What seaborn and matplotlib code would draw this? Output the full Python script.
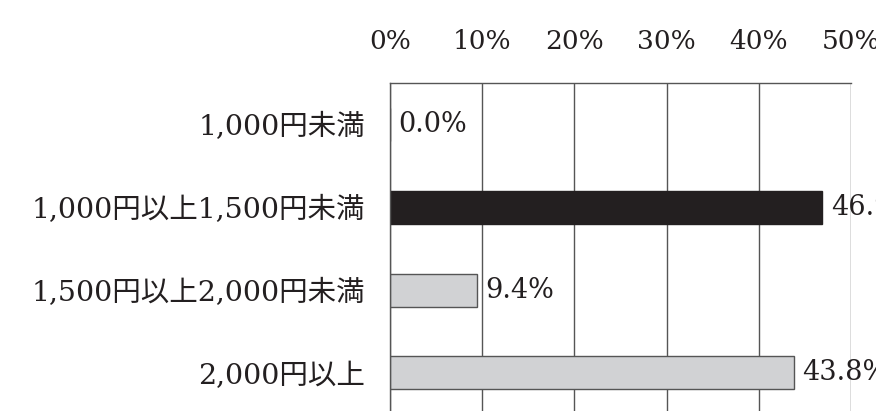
import matplotlib
matplotlib.use('Agg')
import matplotlib.pyplot as plt
import seaborn as sns
import pandas as pd

categories = ['1,000円未満', '1,000円以上1,500円未満', '1,500円以上2,000円未満', '2,000円以上']
values = [0.0, 46.9, 9.4, 43.8]
value_labels = ['0.0%', '46.9%', '9.4%', '43.8%']
xticks = [0, 10, 20, 30, 40, 50]
xtick_labels = ['0%', '10%', '20%', '30%', '40%', '50%']
bar_colors = ['#d1d2d4', '#231f20', '#d1d2d4', '#d1d2d4']
edge_colors = ['#555555', '#231f20', '#555555', '#555555']

sns.set_theme(style='white')
plt.rcParams['font.family'] = ['DejaVu Serif', 'Noto Sans CJK JP']

fig = plt.figure(figsize=(8.76, 4.11), dpi=100)
ax = fig.add_axes([390 / 876, 0, (851 - 390) / 876, (411 - 83) / 411])

df = pd.DataFrame({'cat': categories, 'val': values})
sns.barplot(data=df, y='cat', x='val', hue='cat', palette=bar_colors,
            orient='h', width=0.4, linewidth=1, ax=ax, legend=False,
            saturation=1)
for p, ec in zip(ax.patches, edge_colors):
    p.set_edgecolor(ec)

ax.set_xlim(0, 50)
ax.set_ylim(3.46, -0.5)
ax.set_xticks(xticks)
ax.set_xticklabels(xtick_labels, fontsize=19, color='#231f20')
ax.xaxis.tick_top()
ax.tick_params(axis='x', length=0, pad=21)
ax.tick_params(axis='y', length=0, pad=18, labelsize=20.5, labelcolor='#231f20')
ax.set_xlabel('')
ax.set_ylabel('')
ax.grid(axis='x', color='#555555', linewidth=1)
ax.set_axisbelow(True)
for s in ['bottom', 'right']:
    ax.spines[s].set_visible(False)
for s in ['top', 'left']:
    ax.spines[s].set_color('#555555')
    ax.spines[s].set_linewidth(1)

for i, (v, lab) in enumerate(zip(values, value_labels)):
    ax.text(v + 0.9, i, lab, va='center', ha='left', fontsize=19.5,
            color='#231f20', clip_on=False)

fig.savefig('out.png', dpi=100)
